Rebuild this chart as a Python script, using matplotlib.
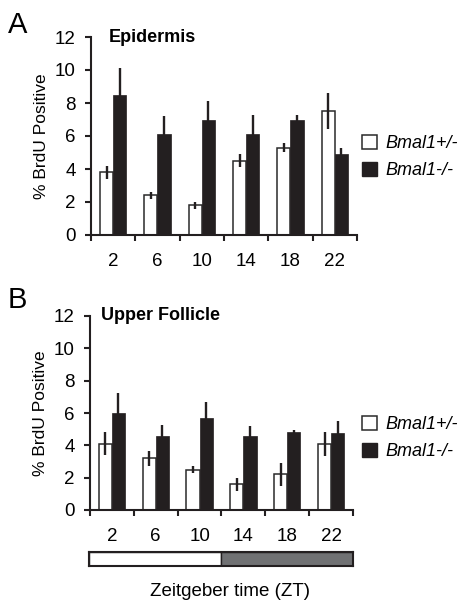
import matplotlib
matplotlib.use("Agg")
import matplotlib.pyplot as plt
from matplotlib.patches import Patch
import numpy as np

plt.rcParams['font.family'] = ['Liberation Sans', 'DejaVu Sans']

zt_labels = ["2", "6", "10", "14", "18", "22"]

epi_het = [3.8, 2.4, 1.8, 4.5, 5.3, 7.5]
epi_het_err = [0.4, 0.2, 0.2, 0.4, 0.3, 1.1]
epi_ko = [8.5, 6.15, 7.0, 6.15, 7.0, 4.9]
epi_ko_err = [1.65, 1.05, 1.15, 1.15, 0.3, 0.35]

uf_het = [4.1, 3.2, 2.5, 1.6, 2.2, 4.1]
uf_het_err = [0.7, 0.45, 0.2, 0.4, 0.7, 0.75]
uf_ko = [6.0, 4.6, 5.7, 4.6, 4.85, 4.75]
uf_ko_err = [1.25, 0.65, 1.0, 0.6, 0.12, 0.75]

ld_starts = [0, 12]
ld_lengths = [12, 12]
ld_colors = ["white", "#707173"]

W, H = 460, 602
fig = plt.figure(figsize=(W / 100, H / 100), dpi=100)

BLACK = "#231f20"
FS = 13.5


def px_axes(x0, x1, ytop, ybot):
    return fig.add_axes([x0 / W, (H - ybot) / H, (x1 - x0) / W, (ybot - ytop) / H])


def panel(ax, het, het_err, ko, ko_err, title, letter, letter_y, legend_y, title_x):
    x = np.arange(len(zt_labels))
    bw = 0.3
    ax.bar(x - bw / 2, het, width=bw, color="white", edgecolor="#2a2a2a", linewidth=1.1, zorder=2)
    ax.bar(x + bw / 2, ko, width=bw, color=BLACK, edgecolor=BLACK, linewidth=0.5, zorder=2)
    ax.errorbar(x - bw / 2, het, yerr=het_err, fmt="none", ecolor=BLACK, elinewidth=1.7, capsize=0, zorder=3)
    ax.errorbar(x + bw / 2, ko, yerr=ko_err, fmt="none", ecolor=BLACK, elinewidth=1.7, capsize=0, zorder=3)
    ax.set_xlim(-0.5, len(zt_labels) - 0.5)
    ax.set_ylim(0, 12)
    ax.set_yticks(np.arange(0, 13, 2))
    ax.set_yticklabels([str(v) for v in range(0, 13, 2)], fontsize=FS)
    ax.set_xticks(np.arange(-0.5, len(zt_labels), 1.0))
    ax.set_xticklabels([])
    ax.set_xticks(x, minor=True)
    ax.set_xticklabels(zt_labels, minor=True, fontsize=FS)
    ax.tick_params(axis="x", which="major", direction="out", length=4, width=1.5, color=BLACK)
    ax.tick_params(axis="x", which="minor", length=0, pad=13)
    ax.tick_params(axis="y", direction="out", length=4, width=1.5, color=BLACK, pad=7)
    for s in ["top", "right"]:
        ax.spines[s].set_visible(False)
    for s in ["left", "bottom"]:
        ax.spines[s].set_linewidth(1.5)
        ax.spines[s].set_color(BLACK)
    ax.set_ylabel("% BrdU Positive", fontsize=12.5, labelpad=4)
    ax.text(title_x, 12, title, fontsize=13, fontweight="bold", va="center", ha="left")
    handles = [Patch(facecolor="white", edgecolor="#2a2a2a", linewidth=1.1),
               Patch(facecolor=BLACK, edgecolor=BLACK)]
    ax.legend(handles, ["Bmal1+/-", "Bmal1-/-"], loc="center left",
              bbox_to_anchor=(362 / W, (H - legend_y) / H), bbox_transform=fig.transFigure,
              frameon=False, prop={"size": 13, "style": "italic"},
              handlelength=0.85, handleheight=0.85, handletextpad=0.45,
              labelspacing=0.55, borderpad=0, borderaxespad=0)
    fig.text(8 / W, (H - letter_y) / H, letter, fontsize=21, va="center", ha="left")


axA = px_axes(91, 357, 37, 235)
panel(axA, epi_het, epi_het_err, epi_ko, epi_ko_err, "Epidermis", "A", 25, 157, -0.1)

axB = px_axes(90, 353, 316, 510)
panel(axB, uf_het, uf_het_err, uf_ko, uf_ko_err, "Upper Follicle", "B", 300, 438, -0.25)

axL = px_axes(89, 353, 552, 566)
axL.barh([0], ld_lengths, left=ld_starts, height=1.0, color=ld_colors, edgecolor=BLACK, linewidth=1.0)
axL.set_xlim(0, 24)
axL.set_ylim(-0.5, 0.5)
axL.set_xticks([])
axL.set_yticks([])
for s in axL.spines.values():
    s.set_linewidth(1.5)
    s.set_color(BLACK)
fig.text(230 / W, (H - 591) / H, "Zeitgeber time (ZT)", fontsize=13.5, ha="center", va="center")

fig.savefig("out.png", dpi=100)
